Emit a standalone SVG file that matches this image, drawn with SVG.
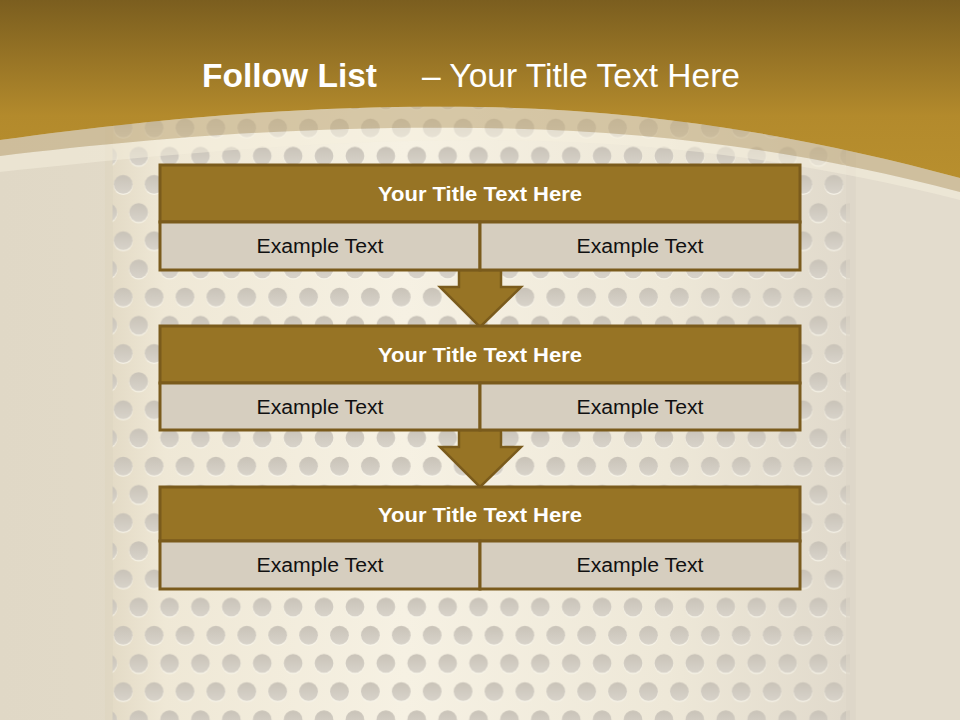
<svg xmlns="http://www.w3.org/2000/svg" width="960" height="720" viewBox="0 0 960 720">
<style>
.ttl{fill:#977425;stroke:#7a5b1c;stroke-width:3}
.cell{fill:#d6cebf;stroke:#7a5b1c;stroke-width:3}
.arrow{fill:#977425;stroke:#7a5b1c;stroke-width:2.5;stroke-linejoin:miter}
.ht{font-family:"Liberation Sans",Arial,sans-serif;font-weight:bold;font-size:21px;fill:#ffffff;text-anchor:middle}
.et{font-family:"Liberation Sans",Arial,sans-serif;font-size:20px;fill:#111111;text-anchor:middle}
</style>
<defs>
<linearGradient id="gold" x1="0" y1="0" x2="0" y2="1" gradientUnits="objectBoundingBox">
<stop offset="0" stop-color="#7b5e1f"/>
<stop offset="0.65" stop-color="#b38a2c"/>
<stop offset="1" stop-color="#b88f2e"/>
</linearGradient>
<linearGradient id="panel" x1="0" y1="0" x2="1" y2="0">
<stop offset="0" stop-color="#e2d9c4"/>
<stop offset="0.08" stop-color="#efe8d6"/>
<stop offset="0.4" stop-color="#f6f1e3"/>
<stop offset="0.75" stop-color="#eee8d8"/>
<stop offset="1" stop-color="#e0d9cb"/>
</linearGradient>
<linearGradient id="side" x1="0" y1="0" x2="1" y2="0">
<stop offset="0" stop-color="#e0d8c6"/>
<stop offset="1" stop-color="#ece5d3"/>
</linearGradient>
<linearGradient id="dotg" x1="0" y1="0" x2="0" y2="1">
<stop offset="0" stop-color="#c9c3b8"/>
<stop offset="1" stop-color="#d8d3ca"/>
</linearGradient>
<pattern id="dots" patternUnits="userSpaceOnUse" x="15.05" y="1.19" width="30.9" height="56.36">
<circle cx="15.45" cy="14.09" r="9.6" fill="#faf7ee" opacity="0.8" transform="translate(0,1)"/>
<circle cx="15.45" cy="14.09" r="9.4" fill="url(#dotg)"/>
<circle cx="0" cy="42.27" r="9.6" fill="#faf7ee" opacity="0.8" transform="translate(0,1)"/>
<circle cx="0" cy="42.27" r="9.4" fill="url(#dotg)"/>
<circle cx="30.9" cy="42.27" r="9.6" fill="#faf7ee" opacity="0.8" transform="translate(0,1)"/>
<circle cx="30.9" cy="42.27" r="9.4" fill="url(#dotg)"/>
</pattern>
</defs>

<g id="background">
<rect x="0" y="0" width="960" height="720" fill="url(#side)"/>
<rect x="855" y="0" width="105" height="720" fill="#e3dccd"/>
<rect x="105" y="0" width="750" height="720" fill="url(#panel)"/>
<rect x="112" y="0" width="738" height="720" fill="url(#dots)"/>
<rect x="105" y="0" width="8" height="720" fill="#ddd5c2" opacity="0.6"/>
<rect x="846" y="0" width="10" height="720" fill="#ddd6c8" opacity="0.7"/>
<path d="M0,156 C200,132 350,126 480,128 C650,130 800,150 960,192 L960,200 C800,160 650,140 480,140 C350,140 200,150 0,172 Z" fill="#f5efde" opacity="0.5"/>
<path d="M0,140 C200,112 350,105 480,107 C650,110 800,135 960,178 L960,192 C800,150 650,130 480,128 C350,126 200,132 0,156 Z" fill="#c2ab7e" opacity="0.6"/>
<path d="M0,0 H960 V178 C800,135 650,110 480,107 C350,105 200,112 0,140 Z" fill="url(#gold)"/>
</g>

<text x="202" y="87" font-family="'Liberation Sans',Arial,sans-serif" font-weight="bold" font-size="33" fill="#ffffff" textLength="175" lengthAdjust="spacingAndGlyphs">Follow List</text>
<text x="422" y="87" font-family="'Liberation Sans',Arial,sans-serif" font-size="33" fill="#ffffff" textLength="318" lengthAdjust="spacingAndGlyphs">– Your Title Text Here</text>

<g id="connectors">
<path class="arrow" d="M459,270 V287 H440 L480,327 L521,287 H501 V270 Z"/>
<path class="arrow" d="M459,430 V447 H440 L480,487 L521,447 H501 V430 Z"/>
</g>

<g id="node1">
<rect class="ttl" x="160" y="165" width="640" height="57"/>
<rect class="cell" x="160" y="222" width="320" height="48"/>
<rect class="cell" x="480" y="222" width="320" height="48"/>
<text class="ht" x="480" y="201" textLength="204" lengthAdjust="spacingAndGlyphs">Your Title Text Here</text>
<text class="et" x="320" y="253" textLength="127" lengthAdjust="spacingAndGlyphs">Example Text</text>
<text class="et" x="640" y="253" textLength="127" lengthAdjust="spacingAndGlyphs">Example Text</text>
</g>

<g id="node2">
<rect class="ttl" x="160" y="326" width="640" height="57"/>
<rect class="cell" x="160" y="383" width="320" height="47"/>
<rect class="cell" x="480" y="383" width="320" height="47"/>
<text class="ht" x="480" y="362" textLength="204" lengthAdjust="spacingAndGlyphs">Your Title Text Here</text>
<text class="et" x="320" y="414" textLength="127" lengthAdjust="spacingAndGlyphs">Example Text</text>
<text class="et" x="640" y="414" textLength="127" lengthAdjust="spacingAndGlyphs">Example Text</text>
</g>

<g id="node3">
<rect class="ttl" x="160" y="487" width="640" height="54"/>
<rect class="cell" x="160" y="541" width="320" height="48"/>
<rect class="cell" x="480" y="541" width="320" height="48"/>
<text class="ht" x="480" y="522" textLength="204" lengthAdjust="spacingAndGlyphs">Your Title Text Here</text>
<text class="et" x="320" y="572" textLength="127" lengthAdjust="spacingAndGlyphs">Example Text</text>
<text class="et" x="640" y="572" textLength="127" lengthAdjust="spacingAndGlyphs">Example Text</text>
</g>
</svg>
